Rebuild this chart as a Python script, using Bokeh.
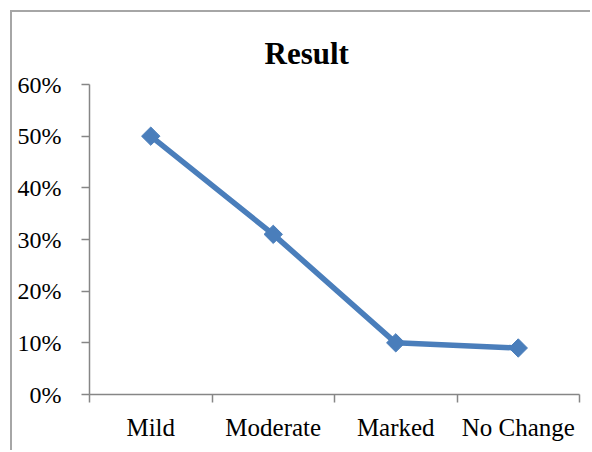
from math import pi

from bokeh.embed import file_html
from bokeh.models import FixedTicker, NumeralTickFormatter, Range1d
from bokeh.plotting import figure
from bokeh.resources import INLINE

# Data
categories = ["Mild", "Moderate", "Marked", "No Change"]
result_share = [0.50, 0.31, 0.10, 0.09]
y_ticks = [0.0, 0.1, 0.2, 0.3, 0.4, 0.5, 0.6]

# each category occupies one unit of x; points sit in the middle of each slot
x_pos = [i + 0.5 for i in range(len(categories))]

FONT = "Liberation Serif"
AXIS_GRAY = "#868686"
LINE_BLUE = "#4a7ebb"
EDGE = 10    # offset of the chart-area border from the page corner
BORDER = 2   # border thickness

p = figure(
    width=592 - EDGE - BORDER,
    height=452 - EDGE - BORDER,
    output_backend="svg",
    toolbar_location=None,
    x_range=Range1d(0, len(categories)),
    y_range=Range1d(0, 0.6),
    min_border_left=89 - EDGE - BORDER,
    min_border_right=13,
    min_border_top=84 - EDGE - BORDER,
    min_border_bottom=58,
    margin=(EDGE, 0, 0, EDGE),
)
# chart-area border (left and top edges visible on the page)
p.styles = {
    "border-left": f"{BORDER}px solid #a6a6a6",
    "border-top": f"{BORDER}px solid #a6a6a6",
}
p.outline_line_color = None
p.xgrid.visible = False
p.ygrid.visible = False
p.background_fill_color = "white"
p.border_fill_color = "white"

p.title.text = "Result"
p.title.text_font = FONT
p.title.text_font_size = "31px"
p.title.text_font_style = "bold"
p.title.text_color = "black"
p.title.align = "left"
p.title.offset = 175
p.title.standoff = 28

# y axis
ya = p.yaxis[0]
ya.ticker = FixedTicker(ticks=y_ticks)
ya.formatter = NumeralTickFormatter(format="0%")
ya.axis_line_color = AXIS_GRAY
ya.axis_line_width = 1.5
ya.major_tick_line_color = AXIS_GRAY
ya.major_tick_line_width = 1.5
ya.major_tick_in = 0
ya.major_tick_out = 8
ya.minor_tick_line_color = None
ya.major_label_text_font = FONT
ya.major_label_text_font_size = "24px"
ya.major_label_text_color = "black"
ya.major_label_standoff = 20

# x axis: labels centred in each slot, tick marks on the slot boundaries
xa = p.xaxis[0]
xa.ticker = FixedTicker(ticks=x_pos, minor_ticks=list(range(len(categories) + 1)))
xa.major_label_overrides = {x: c for x, c in zip(x_pos, categories)}
xa.axis_line_color = AXIS_GRAY
xa.axis_line_width = 1.5
xa.major_tick_line_color = None
xa.minor_tick_line_color = AXIS_GRAY
xa.minor_tick_line_width = 1.5
xa.minor_tick_in = 0
xa.minor_tick_out = 8
xa.major_label_text_font = FONT
xa.major_label_text_font_size = "25px"
xa.major_label_text_color = "black"
xa.major_label_standoff = 11

p.line(x_pos, result_share, line_color=LINE_BLUE, line_width=5.5)
p.scatter(x_pos, result_share, marker="square", angle=pi / 4, size=13,
          fill_color=LINE_BLUE, line_color=LINE_BLUE)

open("out.html", "w").write(file_html(p, INLINE))
